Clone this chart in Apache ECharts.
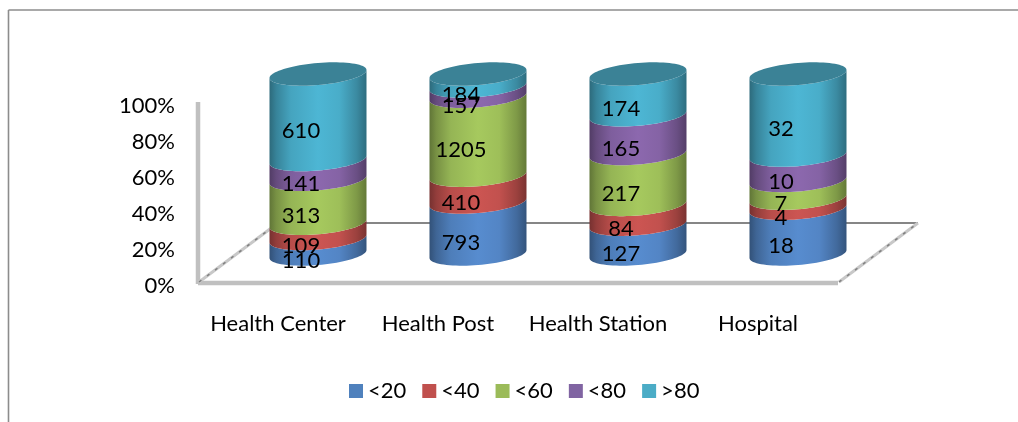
<!DOCTYPE html>
<html>
<head>
<meta charset="utf-8">
<style>html,body{margin:0;padding:0;background:#fff}#c{width:1018px;height:422px}</style>
<script src="https://cdn.jsdelivr.net/npm/echarts@6/dist/echarts.min.js"></script>
</head>
<body>
<div id="c"></div>
<script>
const categories = ['Health Center', 'Health Post', 'Health Station', 'Hospital'];
const under20 = [110, 793, 127, 18];
const under40 = [109, 410, 84, 4];
const under60 = [313, 1205, 217, 7];
const under80 = [141, 157, 165, 10];
const over80 = [610, 184, 174, 32];
const seriesNames = ['<20', '<40', '<60', '<80', '>80'];
const seriesValues = [under20, under40, under60, under80, over80];
const legendColors = ['#4F81BD', '#C0504D', '#9BBB59', '#8064A2', '#4BACC6'];
const sideColors = ['#578CCF', '#CC5552', '#A6C95E', '#8C68AE', '#4DB6D4'];
const capColor = '#3B8296';
const FONT = 'Lato, "Open Sans", sans-serif';
const FS = 22;

function shade(hex, k) {
  const n = parseInt(hex.slice(1), 16);
  const f = v => Math.round(v * k);
  return `rgb(${f(n >> 16 & 255)},${f(n >> 8 & 255)},${f(n & 255)})`;
}
const SHADES = [[0, .58], [.07, .72], [.22, .9], [.5, 1], [.72, .95], [.9, .76], [1, .6]];
function sideGradient(hex) {
  return new echarts.graphic.LinearGradient(0, 0, 1, 0,
    SHADES.map(s => ({offset: s[0], color: shade(hex, s[1])})));
}
// Projection: tick labels sit slightly below the drawn floor (AXIS_SHIFT);
// the cylinders stand half way into the floor (DEPTH_X, DEPTH_Y).
const AXIS_SHIFT = 3;
const DEPTH_X = 40, DEPTH_Y = 29 + AXIS_SHIFT;
const RX = 48.5, RY = 11, SKEW = 4;
function frontArc(cx, cy, reverse) {
  const pts = [];
  for (let i = 0; i <= 40; i++) {
    const t = Math.PI * (reverse ? i / 40 : 1 - i / 40);
    pts.push([cx + RX * Math.cos(t), cy + RY * Math.sin(t) - SKEW * Math.cos(t)]);
  }
  return pts;
}
function wholeEllipse(cx, cy) {
  const pts = [];
  for (let i = 0; i < 80; i++) {
    const t = 2 * Math.PI * i / 80;
    pts.push([cx + RX * Math.cos(t), cy + RY * Math.sin(t) - SKEW * Math.cos(t)]);
  }
  return pts;
}

const totals = categories.map((_, c) => seriesValues.reduce((a, s) => a + s[c], 0));
const series = seriesNames.map((name, si) => {
  const data = categories.map((_, c) => {
    let below = 0;
    for (let k = 0; k < si; k++) below += seriesValues[k][c];
    return [c, below / totals[c] * 100, (below + seriesValues[si][c]) / totals[c] * 100, seriesValues[si][c]];
  });
  return {
    name, type: 'custom', coordinateSystem: 'cartesian2d', clip: false, z: 3 + si,
    itemStyle: {color: legendColors[si]},
    encode: {x: 0, y: [1, 2]},
    data,
    renderItem(params, api) {
      const c = api.value(0), lo = api.value(1), hi = api.value(2), raw = api.value(3);
      const pLo = api.coord([c, lo]), pHi = api.coord([c, hi]);
      const cx = pLo[0] + DEPTH_X;
      const yLo = pLo[1] - DEPTH_Y, yHi = pHi[1] - DEPTH_Y;
      const poly = frontArc(cx, yLo, false).concat(frontArc(cx, yHi, true));
      const children = [{
        type: 'polygon', shape: {points: poly},
        style: {fill: sideGradient(sideColors[si]), stroke: null}
      }];
      if (si === seriesNames.length - 1) {
        children.push({type: 'polygon', shape: {points: wholeEllipse(cx, yHi)}, style: {fill: capColor}});
      }
      children.push({
        type: 'text', z2: 100,
        style: {
          text: String(raw), x: pLo[0] + 23, y: (pLo[1] + pHi[1]) / 2 - 14.5 - AXIS_SHIFT,
          align: 'center', verticalAlign: 'middle',
          fill: '#000', fontFamily: FONT, fontSize: FS
        }
      });
      return {type: 'group', children};
    }
  };
});

const floorSeries = {
  type: 'custom', coordinateSystem: 'cartesian2d', clip: false, silent: true, z: 1,
  data: [[0, 0]], encode: {x: 0, y: 1},
  renderItem(params, api) {
    const band = api.size([1, 0])[0];
    const o = api.coord([0, 0]), t = api.coord([0, 100]);
    const L = o[0] - band / 2, R = L + band * categories.length, B = o[1] - AXIS_SHIFT, T = t[1] - AXIS_SHIFT;
    const dx = DEPTH_X * 2, dy = 60;
    const line = (x1, y1, x2, y2, stroke, lineWidth, lineDash) => ({
      type: 'line', shape: {x1, y1, x2, y2}, style: {stroke, lineWidth, lineDash}
    });
    return {type: 'group', children: [
      line(L + dx, B - dy, R + dx, B - dy, '#868686', 2),
      line(L, T - 1, L, B + 1, '#C0C0C0', 4.5),
      line(L, B, R, B, '#C0C0C0', 4.5),
      line(L + 1, B - 1, L + dx, B - dy, '#C8C8C8', 3),
      line(L + 1, B - 1, L + dx, B - dy, '#808080', 1.5, [3, 7]),
      line(R + 1, B - 1, R + dx, B - dy, '#C8C8C8', 3),
      line(R + 1, B - 1, R + dx, B - dy, '#808080', 1.5, [3, 7])
    ]};
  }
};

const chart = echarts.init(document.getElementById('c'), null, {renderer: 'canvas'});
chart.setOption({
  animation: false,
  backgroundColor: '#fff',
  graphic: [
    {type: 'line', shape: {x1: 8.5, y1: 10, x2: 1018, y2: 10}, style: {stroke: '#8C8C8C', lineWidth: 1.6}},
    {type: 'line', shape: {x1: 8.5, y1: 10, x2: 8.5, y2: 422}, style: {stroke: '#8C8C8C', lineWidth: 1.6}}
  ],
  legend: {
    data: seriesNames, left: 344, top: 375, icon: 'rect', itemWidth: 14, itemHeight: 14, itemGap: 16,
    textStyle: {color: '#000', fontFamily: FONT, fontSize: FS}
  },
  grid: {left: 198, width: 640, top: 106, height: 180, containLabel: false},
  xAxis: {
    type: 'category', data: categories,
    axisLine: {show: false}, axisTick: {show: false},
    axisLabel: {color: '#000', fontFamily: FONT, fontSize: FS, margin: 27, interval: 0}
  },
  yAxis: {
    type: 'value', min: 0, max: 100, interval: 20,
    axisLine: {show: false}, axisTick: {show: false}, splitLine: {show: false},
    axisLabel: {color: '#000', fontFamily: FONT, fontSize: FS, margin: 23, formatter: '{value}%'}
  },
  series: [floorSeries].concat(series)
});
</script>
</body>
</html>
